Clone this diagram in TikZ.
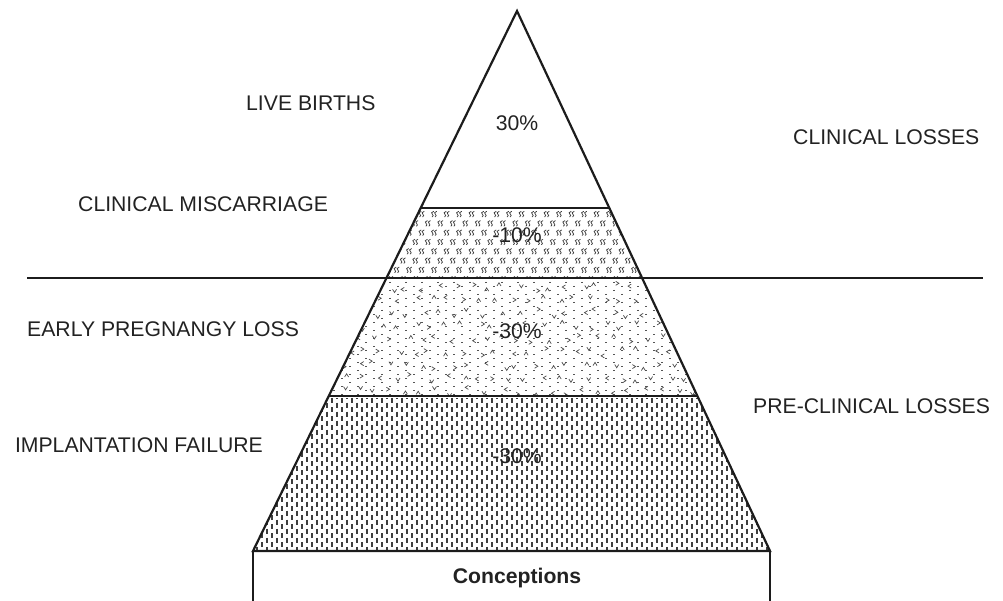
\documentclass[tikz,border=0pt]{standalone}
\usepackage{fontspec}
\setmainfont{Liberation Sans}
\usetikzlibrary{calc}
\definecolor{ink}{HTML}{1C1C1C}
\definecolor{txt}{HTML}{222222}
\begin{document}
\begin{tikzpicture}[x=1pt,y=-1pt,
  outline/.style={draw=ink,line width=2.2pt,line join=miter},
  lbl/.style={inner sep=0pt,text=txt,font=\fontsize{21.2}{25}\selectfont},
  dashcol/.style={draw=ink!85,line width=1.1pt},
  dotcol/.style={draw=ink!75,line width=1.1pt},
  curl/.style={draw=ink!85,line width=0.75pt,line cap=round},
  chev/.style={draw=ink!80,line width=0.7pt}]
\useasboundingbox (0,0) rectangle (1003,601);

% pyramid corners and band boundaries
\coordinate (apex) at (517,11);
\coordinate (bl) at (253,551);
\coordinate (br) at (770,551);
\coordinate (l1) at ($(apex)!0.3648!(bl)$);
\coordinate (r1) at ($(apex)!0.3648!(br)$);
\coordinate (l2) at ($(apex)!0.4944!(bl)$);
\coordinate (r2) at ($(apex)!0.4944!(br)$);
\coordinate (l3) at ($(apex)!0.7130!(bl)$);
\coordinate (r3) at ($(apex)!0.7130!(br)$);

% clinical miscarriage band: small curl glyphs
\begin{scope}
\clip (l1) -- (r1) -- (r2) -- (l2) -- cycle;
\foreach \j in {0,...,7} {
  \foreach \i in {0,...,21} {
    \pgfmathsetmacro\xx{384+12.5*\i+mod(\j,2)*6.25}
    \pgfmathsetmacro\yy{214+9.3*\j}
    \begin{scope}[shift={(\xx,\yy)}]
      \draw[curl] (-0.4,-2.6) .. controls (-2.9,-2.6) and (-2.9,0) .. (-1.5,0.4)
                  .. controls (-0.4,0.8) and (-0.7,2.6) .. (-1.8,2.8);
      \draw[curl] (2.6,-2.6) .. controls (0.1,-2.6) and (0.1,0) .. (1.5,0.4)
                  .. controls (2.6,0.8) and (2.3,2.6) .. (1.2,2.8);
    \end{scope}
  }
}
\end{scope}

% early pregnancy loss band: stipple dots with scattered chevrons
\begin{scope}
\clip (l2) -- (r2) -- (r3) -- (l3) -- cycle;
\foreach \i in {0,...,48} {
  \pgfmathsetmacro\xx{326+8*\i}
  \pgfmathsetmacro\ph{mod(\i,2)*4}
  \draw[dotcol,dash pattern=on 1.1pt off 6.9pt,dash phase=\ph pt] (\xx,282) -- (\xx,396);
}
\pgfmathsetseed{12}
\foreach \j in {0,...,8} {
  \foreach \i in {0,...,23} {
    \pgfmathsetmacro\xx{326+16*\i+mod(\j,2)*8+rand*5}
    \pgfmathsetmacro\yy{287+13*\j+rand*4}
    \pgfmathrandominteger\rr{0}{3}
    \draw[chev,shift={(\xx,\yy)},rotate=90*\rr] (-2,-1.6) -- (0,1.6) -- (2,-1.6);
  }
}
\end{scope}

% implantation failure band: staggered short vertical dashes
\begin{scope}
\clip (l3) -- (r3) -- (br) -- (bl) -- cycle;
\foreach \i in {0,...,105} {
  \pgfmathsetmacro\xx{252+5*\i}
  \pgfmathsetmacro\ph{mod(\i,2)*4.5}
  \draw[dashcol,dash pattern=on 5pt off 4pt,dash phase=\ph pt] (\xx,398) -- (\xx,552);
}
\end{scope}

% outlines
\draw[outline] (apex) -- (br) -- (bl) -- cycle;
\draw[outline] (l1) -- (r1);
\draw[outline] (l3) -- (r3);
\coordinate (divL) at (27,278);
\coordinate (divR) at (983,278);
\draw[outline] (divL) -- (divR);
\coordinate (bxl) at (253,610);
\coordinate (bxr) at (770,610);
\draw[outline] (bl) -- (bxl);
\draw[outline] (br) -- (bxr);

% labels
\node[lbl,anchor=base west] (live) at (246,111) {LIVE BIRTHS};
\node[lbl,anchor=base west] (closs) at (793,145) {CLINICAL LOSSES};
\node[lbl,anchor=base west] (cmis) at (78,212) {CLINICAL MISCARRIAGE};
\node[lbl,anchor=base west] (epl) at (27,337) {EARLY PREGNANGY LOSS};
\node[lbl,anchor=base west] (pcl) at (753,413) {PRE-CLINICAL LOSSES};
\node[lbl,anchor=base east] (impl) at (263,452) {IMPLANTATION FAILURE};
\node[lbl,anchor=base] (p1) at (517,131) {30\%};
\node[lbl,anchor=base] (p2) at (517,243) {-10\%};
\node[lbl,anchor=base] (p3) at (517,338) {-30\%};
\node[lbl,anchor=base] (p4) at (517,463) {-30\%};
\node[lbl,anchor=base,font=\bfseries\fontsize{21.2}{25}\selectfont] (conc) at (517,583) {Conceptions};
\end{tikzpicture}
\end{document}
